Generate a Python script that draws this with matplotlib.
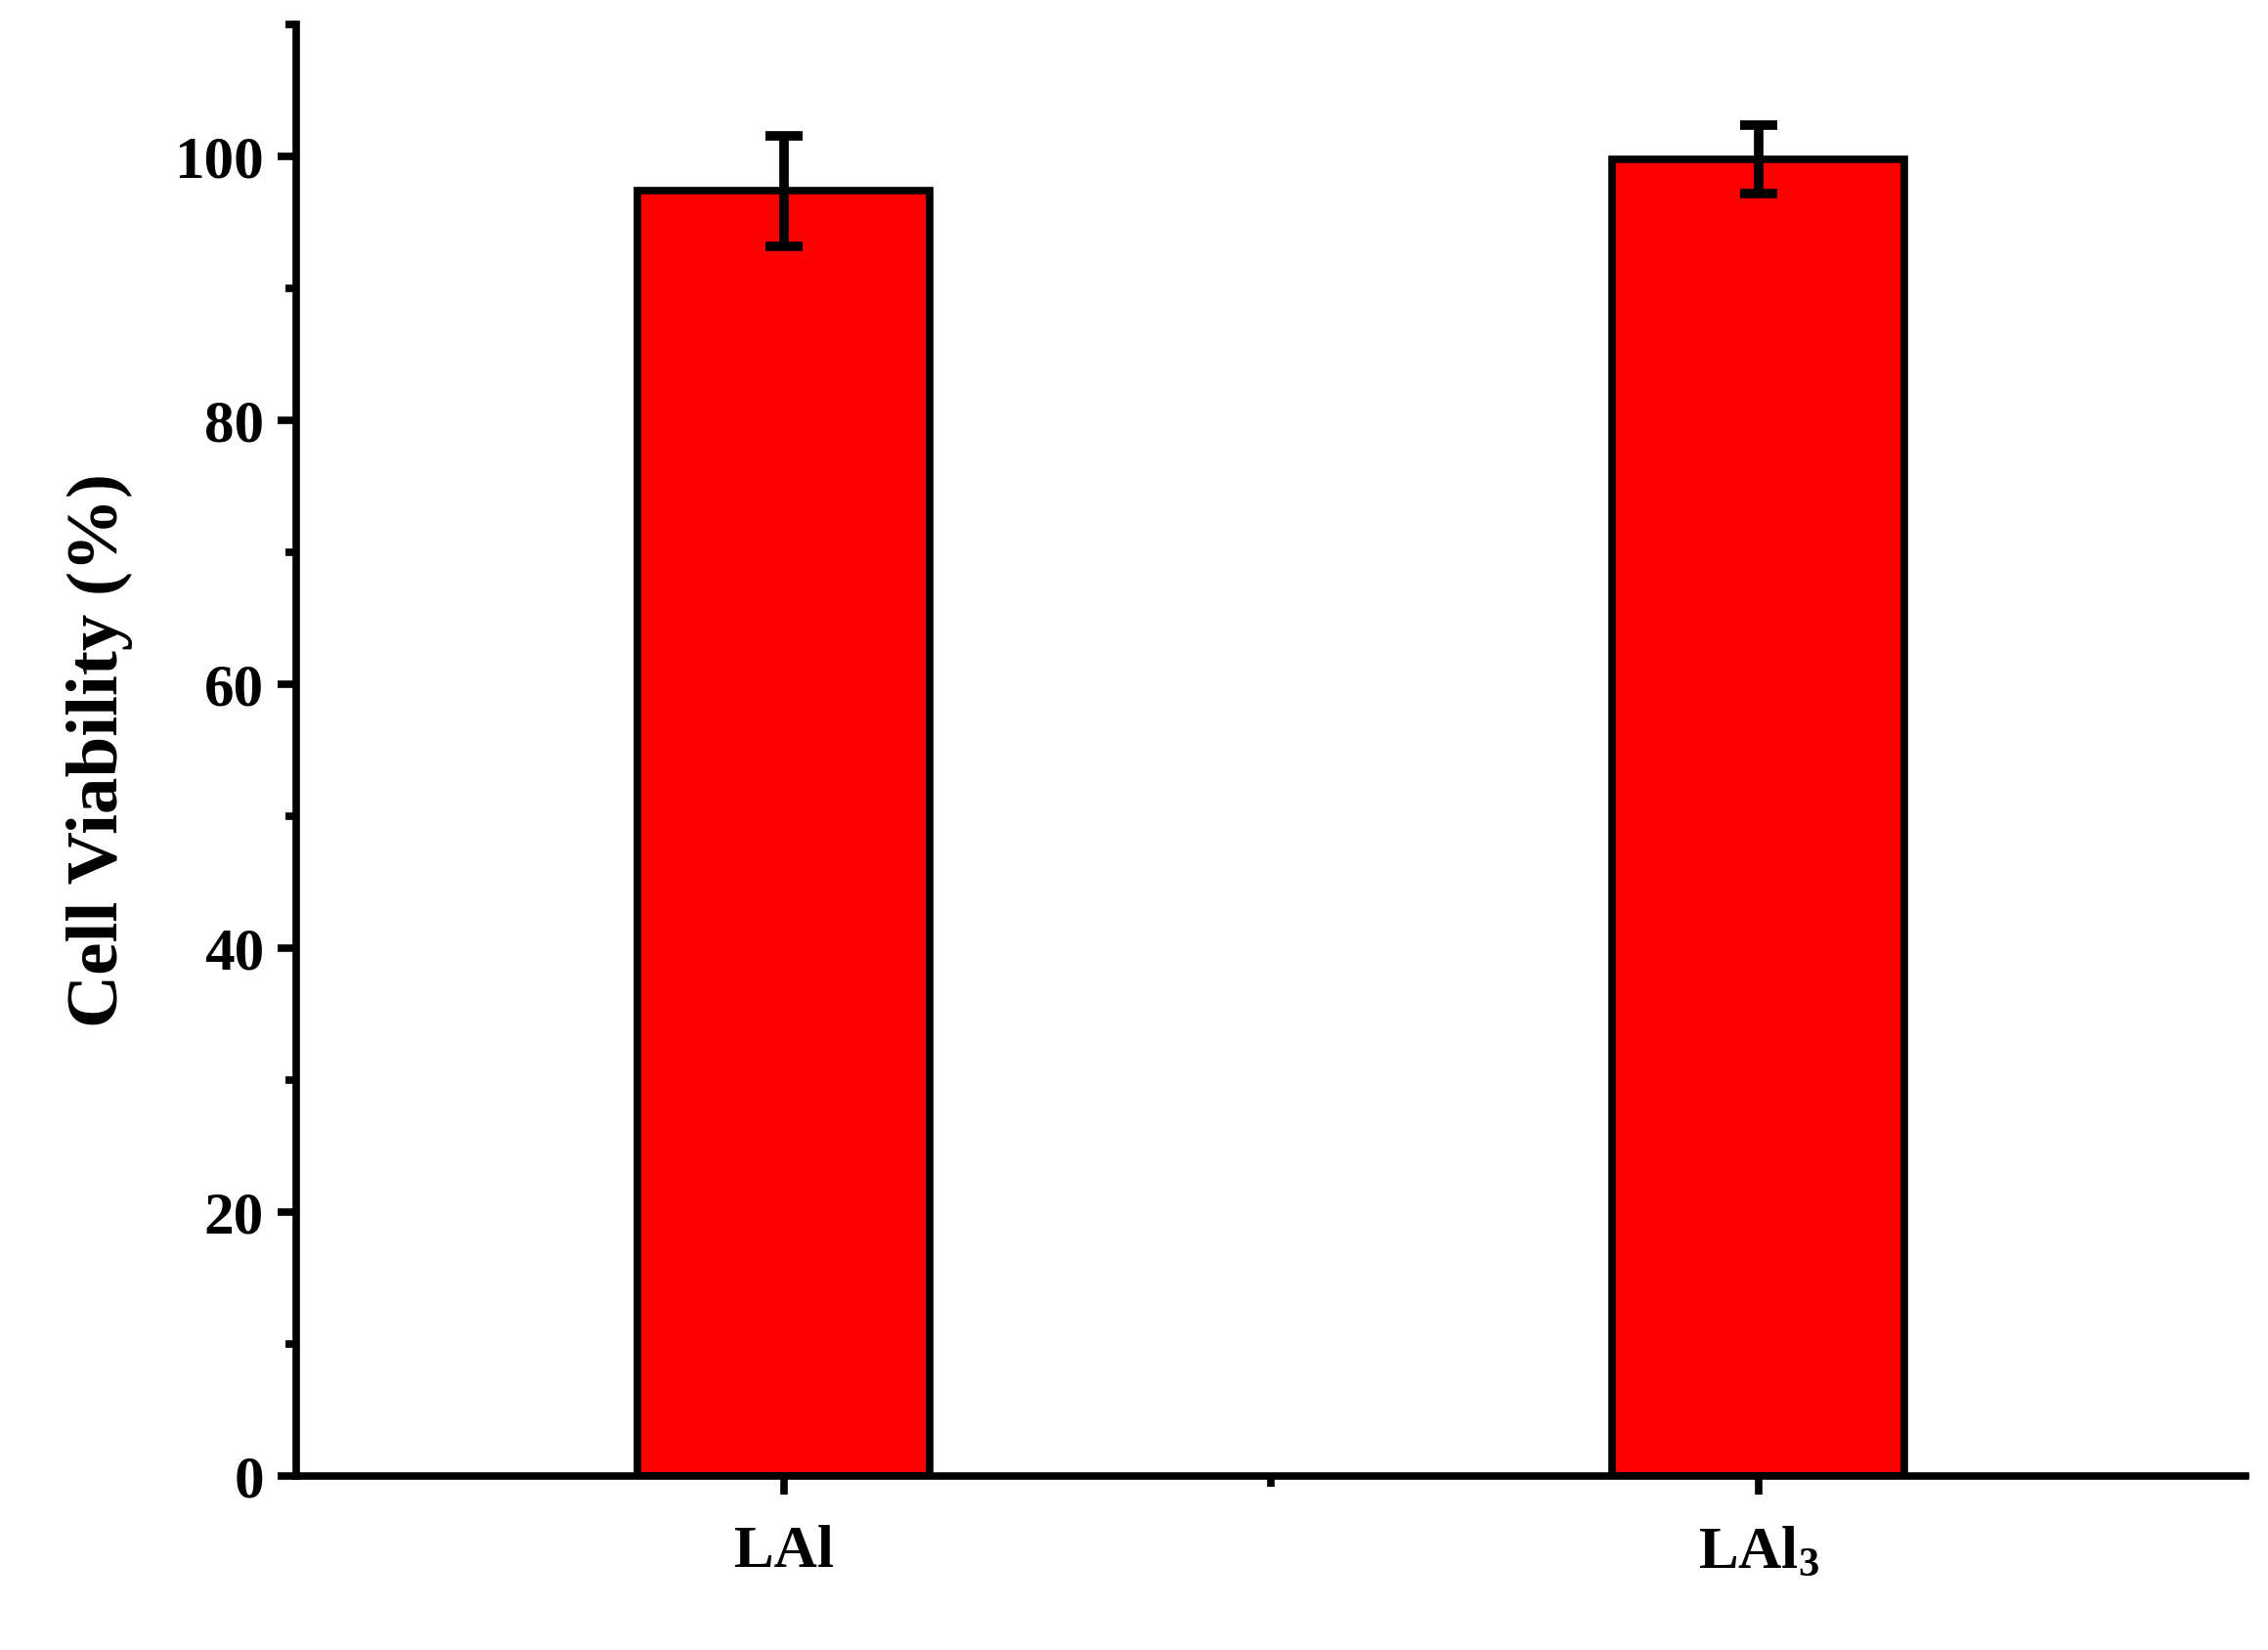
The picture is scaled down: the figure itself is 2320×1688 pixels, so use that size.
import matplotlib
matplotlib.use("Agg")
import matplotlib.pyplot as plt
from matplotlib.ticker import MultipleLocator, FixedLocator

categories = ["LAl", "LAl$_3$"]
viability = [97.4, 99.8]
errors = [4.2, 2.6]

plt.rcParams["font.family"] = ["Liberation Serif", "DejaVu Serif"]
plt.rcParams["font.weight"] = "bold"
plt.rcParams["mathtext.fontset"] = "custom"
plt.rcParams["mathtext.rm"] = "Liberation Serif:bold"
plt.rcParams["mathtext.default"] = "rm"

fig = plt.figure(figsize=(23.2, 16.88), dpi=100)
ax = fig.add_axes([0.1307, 0.1053, 0.8596, 0.8797])

x = [1, 2]
ax.bar(x, viability, width=0.3, color="#ff0000", edgecolor="black", linewidth=5.5, zorder=2)
ax.errorbar(x, viability, yerr=errors, fmt="none", ecolor="black", elinewidth=7,
            capsize=14, capthick=7, zorder=3)

ax.set_xlim(0.5, 2.5)
ax.set_ylim(0, 110)
ax.set_xticks(x)
ax.set_xticklabels(categories)
ax.xaxis.set_minor_locator(FixedLocator([1.5]))
ax.yaxis.set_major_locator(MultipleLocator(20))
ax.yaxis.set_minor_locator(MultipleLocator(10))
ax.set_yticks(range(0, 101, 20))

for s in ["top", "right"]:
    ax.spines[s].set_visible(False)
for s in ["left", "bottom"]:
    ax.spines[s].set_linewidth(5.5)

ax.tick_params(axis="both", which="major", length=14, width=5.5, labelsize=44, pad=10)
ax.tick_params(axis="both", which="minor", length=8, width=5.5)
ax.tick_params(axis="x", pad=22)
ax.set_ylabel("Cell Viability (%)", fontsize=54, fontweight="bold", labelpad=30)

fig.savefig("out.png", dpi=100)
